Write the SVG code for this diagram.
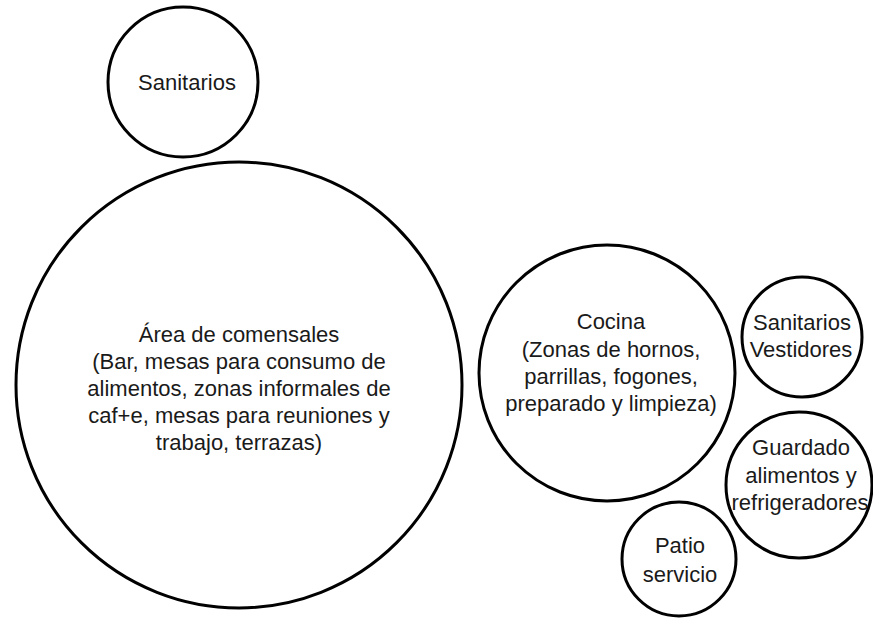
<svg xmlns="http://www.w3.org/2000/svg" width="873" height="619" viewBox="0 0 873 619">
  <style>
    .zone { fill: #ffffff; stroke: #000000; stroke-width: 3; }
    .label { font-family: "Liberation Sans", Arial, sans-serif; font-size: 22px; fill: #1a1a1a; text-anchor: middle; }
  </style>
  <rect width="873" height="619" fill="#ffffff"/>

  <g id="sanitarios">
    <circle class="zone" cx="183" cy="82" r="75"/>
    <text class="label" x="187" y="90">Sanitarios</text>
  </g>

  <g id="area-comensales">
    <circle class="zone" cx="239" cy="385" r="223"/>
    <text class="label" x="239" y="342">Área de comensales</text>
    <text class="label" x="239" y="369">(Bar, mesas para consumo de</text>
    <text class="label" x="239" y="396">alimentos, zonas informales de</text>
    <text class="label" x="239" y="423">caf+e, mesas para reuniones y</text>
    <text class="label" x="239" y="450">trabajo, terrazas)</text>
  </g>

  <g id="cocina">
    <circle class="zone" cx="607" cy="373" r="128"/>
    <text class="label" x="611" y="329">Cocina</text>
    <text class="label" x="611" y="357">(Zonas de hornos,</text>
    <text class="label" x="611" y="384">parrillas, fogones,</text>
    <text class="label" x="611" y="411">preparado y limpieza)</text>
  </g>

  <g id="sanitarios-vestidores">
    <circle class="zone" cx="802" cy="337" r="60"/>
    <text class="label" x="802" y="330">Sanitarios</text>
    <text class="label" x="801" y="357">Vestidores</text>
  </g>

  <g id="guardado">
    <circle class="zone" cx="799" cy="485" r="73"/>
    <text class="label" x="801" y="455">Guardado</text>
    <text class="label" x="801" y="483">alimentos y</text>
    <text class="label" x="800" y="510">refrigeradores</text>
  </g>

  <g id="patio-servicio">
    <circle class="zone" cx="679" cy="559" r="57"/>
    <text class="label" x="680" y="553">Patio</text>
    <text class="label" x="680" y="582">servicio</text>
  </g>

  <g id="connectors"/>
</svg>
